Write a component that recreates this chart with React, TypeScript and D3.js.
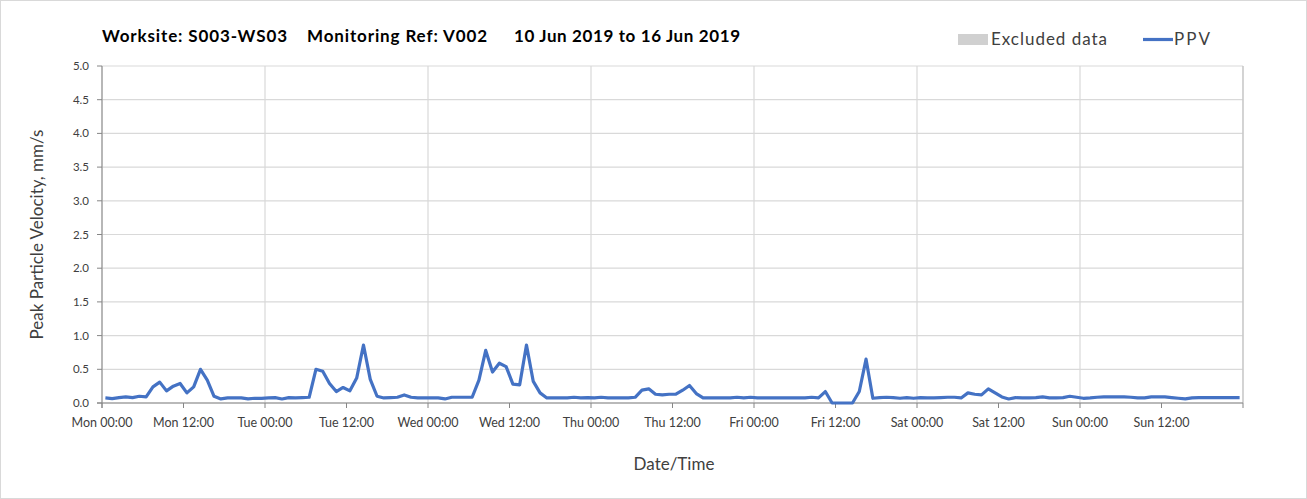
import React from "react";
import * as d3 from "d3";

const titleParts = ["Worksite: S003-WS03", "Monitoring Ref: V002", "10 Jun 2019 to 16 Jun 2019"];
const dayNames = ["Mon", "Tue", "Wed", "Thu", "Fri", "Sat", "Sun"];
const tickHours = ["00:00", "12:00"];
const yTicks = [0, 0.5, 1, 1.5, 2, 2.5, 3, 3.5, 4, 4.5, 5];
// Hourly PPV values (mm/s), 10 Jun 2019 00:00 .. 16 Jun 2019 23:00
const ppv = [
  0.075, 0.065, 0.08, 0.09, 0.08, 0.1, 0.09, 0.24, 0.31, 0.18, 0.25, 0.29, 0.15, 0.24, 0.5, 0.34, 0.1, 0.06, 0.075, 0.075, 0.075, 0.06, 0.07, 0.07,
  0.075, 0.08, 0.06, 0.08, 0.075, 0.08, 0.085, 0.5, 0.47, 0.29, 0.17, 0.23, 0.18, 0.37, 0.86, 0.35, 0.1, 0.075, 0.08, 0.085, 0.12, 0.085, 0.075, 0.075,
  0.075, 0.075, 0.06, 0.085, 0.085, 0.085, 0.085, 0.34, 0.78, 0.46, 0.59, 0.54, 0.28, 0.27, 0.86, 0.32, 0.15, 0.075, 0.075, 0.075, 0.075, 0.085, 0.075, 0.08,
  0.075, 0.085, 0.075, 0.075, 0.075, 0.075, 0.085, 0.19, 0.21, 0.13, 0.12, 0.13, 0.13, 0.19, 0.26, 0.14, 0.075, 0.075, 0.075, 0.075, 0.075, 0.085, 0.075, 0.085,
  0.075, 0.075, 0.075, 0.075, 0.075, 0.075, 0.075, 0.075, 0.085, 0.075, 0.17, 0, 0, 0, 0, 0.17, 0.65, 0.07, 0.08, 0.085, 0.08, 0.07, 0.08, 0.07,
  0.08, 0.075, 0.075, 0.08, 0.085, 0.085, 0.075, 0.15, 0.13, 0.12, 0.21, 0.15, 0.09, 0.06, 0.08, 0.075, 0.075, 0.08, 0.09, 0.075, 0.075, 0.08, 0.1, 0.085,
  0.07, 0.075, 0.085, 0.09, 0.09, 0.09, 0.09, 0.085, 0.075, 0.075, 0.09, 0.09, 0.09, 0.08, 0.07, 0.06, 0.075, 0.08, 0.08, 0.08, 0.08, 0.08, 0.08, 0.08,
];
const legendLabels = ["Excluded data", "PPV"];
const axisTitles = { y: "Peak Particle Velocity, mm/s", x: "Date/Time" };

const W = 1307;
const H = 499;
const M = { left: 102, right: 1243, top: 66, bottom: 403 };
const FONT = "Lato, 'Open Sans', sans-serif";
const LINE_COLOR = "#4472C4";

export default function App() {
  const x = d3.scaleLinear().domain([0, 168]).range([M.left, M.right]);
  const y = d3.scaleLinear().domain([0, 5]).range([M.bottom, M.top]);
  const line = d3
    .line<number>()
    .x((_, i) => x(i + 0.5))
    .y((d) => y(d));

  const dayTicks = d3.range(0, 169, 24);
  const halfTicks = d3.range(0, 169, 12);
  const labels = d3.range(0, 14).map((k) => ({
    h: k * 12,
    text: `${dayNames[Math.floor(k / 2)]} ${tickHours[k % 2]}`,
  }));

  const titlePos = [
    { x: 102, len: 185 },
    { x: 307, len: 180 },
    { x: 514, len: 226 },
  ];

  return (
    <svg
      width={W}
      height={H}
      style={{ position: "absolute", left: 0, top: 0, background: "#fff" }}
      fontFamily={FONT}
    >
      <rect x={0.5} y={0.5} width={W - 1} height={H - 1} fill="#fff" stroke="#d9d9d9" />
      {yTicks.map((t) => (
        <line key={"hg" + t} x1={M.left} x2={M.right} y1={y(t)} y2={y(t)} stroke="#d9d9d9" strokeWidth={1.2} />
      ))}
      {dayTicks.map((h) => (
        <line key={"vg" + h} x1={x(h)} x2={x(h)} y1={M.top} y2={M.bottom} stroke="#d9d9d9" strokeWidth={1.2} />
      ))}
      <line x1={M.left} x2={M.left} y1={M.top} y2={M.bottom + 5} stroke="#868686" />
      <line x1={M.right} x2={M.right} y1={M.top} y2={M.bottom} stroke="#bfbfbf" />
      <line x1={M.left - 5} x2={M.right} y1={M.bottom} y2={M.bottom} stroke="#868686" />
      {yTicks.map((t) => (
        <g key={"yt" + t}>
          <line x1={M.left - 5} x2={M.left} y1={y(t)} y2={y(t)} stroke="#868686" />
          <text x={M.left - 13} y={y(t) + 4} textAnchor="end" fontSize={11.5} fill="#404040">
            {t.toFixed(1)}
          </text>
        </g>
      ))}
      {halfTicks.map((h) => (
        <line key={"xt" + h} x1={x(h)} x2={x(h)} y1={M.bottom} y2={M.bottom + 5} stroke="#868686" />
      ))}
      {labels.map((l) => (
        <text key={"xl" + l.h} x={x(l.h)} y={427} textAnchor="middle" fontSize={12.5} fill="#404040">
          {l.text}
        </text>
      ))}
      <path d={line(ppv) || ""} fill="none" stroke={LINE_COLOR} strokeWidth={3.2} strokeLinejoin="round" />
      {titleParts.map((t, i) => (
        <text
          key={"tt" + i}
          x={titlePos[i].x}
          y={42}
          fontSize={17}
          fontWeight="bold"
          fill="#000"
          textLength={titlePos[i].len}
          lengthAdjust="spacing"
        >
          {t}
        </text>
      ))}
      <rect x={958} y={34} width={30} height={11} fill="#d0d0d0" />
      <text x={991} y={45} fontSize={17} fill="#404040" textLength={116} lengthAdjust="spacing">
        {legendLabels[0]}
      </text>
      <line x1={1143} x2={1173} y1={39.5} y2={39.5} stroke={LINE_COLOR} strokeWidth={3.2} />
      <text x={1174} y={45} fontSize={17} fill="#404040" textLength={36} lengthAdjust="spacing">
        {legendLabels[1]}
      </text>
      <text
        transform={`translate(43, ${(M.top + M.bottom) / 2}) rotate(-90)`}
        textAnchor="middle"
        fontSize={17}
        fill="#404040"
      >
        {axisTitles.y}
      </text>
      <text x={674} y={470} textAnchor="middle" fontSize={17} fill="#404040">
        {axisTitles.x}
      </text>
    </svg>
  );
}
